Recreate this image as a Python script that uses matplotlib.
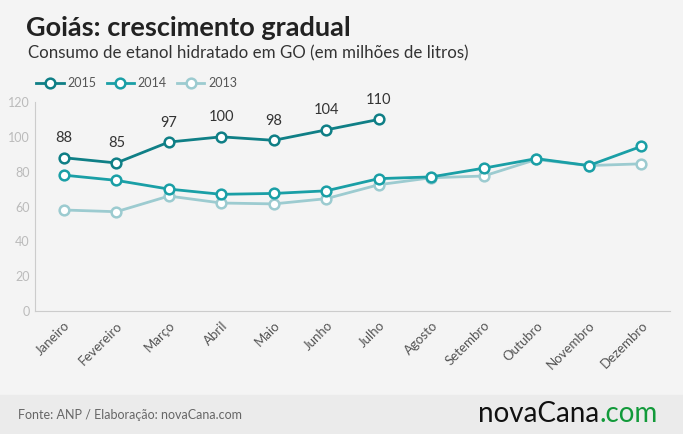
import matplotlib
matplotlib.use("Agg")
import matplotlib.pyplot as plt
from matplotlib.patches import Rectangle

months = ["Janeiro","Fevereiro","Março","Abril","Maio","Junho","Julho","Agosto","Setembro","Outubro","Novembro","Dezembro"]
v2015 = [88, 85, 97, 100, 98, 104, 110]
v2014 = [78, 75, 70, 67, 67.5, 69, 76, 77, 82, 87.5, 83.5, 94.5]
v2013 = [58, 57, 66, 62, 61.5, 64.5, 72.5, 76.5, 77.5, 87, 83.5, 84.5]
yticks = [0, 20, 40, 60, 80, 100, 120]

plt.rcParams['font.family'] = ['Lato', 'DejaVu Sans']
W, H = 683, 434
fig = plt.figure(figsize=(W/100, H/100), dpi=100, facecolor="#f4f4f4")
fig.patches.append(Rectangle((0, 0), 1, 39/H, transform=fig.transFigure, color="#ebebeb", zorder=0))

ax = fig.add_axes([35/W, (H-311)/H, (670-35)/W, (311-102)/H])
ax.set_facecolor("#f4f4f4")
x = list(range(12))
ax.set_xlim(-0.55, 11.55)
ax.set_ylim(0, 120)

c13, c14, c15 = "#9ccbd0", "#1a9fa6", "#0f7f86"
ax.plot(x, v2013, color=c13, lw=2, marker='o', ms=7, mfc='white', mec=c13, mew=1.8, label='2013', zorder=3)
ax.plot(x, v2014, color=c14, lw=2, marker='o', ms=7, mfc='white', mec=c14, mew=1.8, label='2014', zorder=4)
ax.plot(x[:len(v2015)], v2015, color=c15, lw=2, marker='o', ms=7, mfc='white', mec=c15, mew=1.8, label='2015', zorder=5)
for i, v in enumerate(v2015):
    ax.annotate(str(v), (i, v), xytext=(0, 9), textcoords='offset points', ha='center', va='bottom', fontsize=10.5, color='#333333')

ax.set_yticks(yticks)
ax.tick_params(axis='y', length=0, labelsize=9, labelcolor='#bbbbbb', pad=4)
ax.set_xticks(x)
ax.set_xticklabels(months, rotation=45, ha='right', rotation_mode='anchor', fontsize=9.5, color='#555555')
ax.tick_params(axis='x', length=0, pad=6)
for s in ['top', 'right']:
    ax.spines[s].set_visible(False)
for s in ['left', 'bottom']:
    ax.spines[s].set_color('#cccccc')

h, l = ax.get_legend_handles_labels()
fig.legend(h[::-1], l[::-1], loc='upper left', bbox_to_anchor=(25/W, 1-66/H), ncol=3, frameon=False,
           fontsize=9, handlelength=2.2, columnspacing=0.8, handletextpad=0.3, labelcolor='#555555')

fig.text(26/W, 1-28/H, "Goiás: crescimento gradual", fontsize=19.5, fontweight='bold', color='#222222', va='center')
fig.text(28/W, 1-53/H, "Consumo de etanol hidratado em GO (em milhões de litros)", fontsize=12.2, color='#333333', va='center')
fig.text(18/W, 19/H, "Fonte: ANP / Elaboração: novaCana.com", fontsize=9, color='#666666', va='center')
t1 = fig.text(478/W, 12/H, "novaCana", fontsize=20, color='#111111', va='baseline')
fig.text(0, 0, ".com", fontsize=20, color='#129a3a', va='baseline',
         transform=matplotlib.transforms.offset_copy(fig.transFigure, fig=fig, x=0, y=0))
fig.texts[-1].remove()
fig.canvas.draw()
bb = t1.get_window_extent()
fig.text(bb.x1 / W, 12/H, ".com", fontsize=20, color='#129a3a', va='baseline')

fig.savefig("out.png", dpi=100, facecolor=fig.get_facecolor())
